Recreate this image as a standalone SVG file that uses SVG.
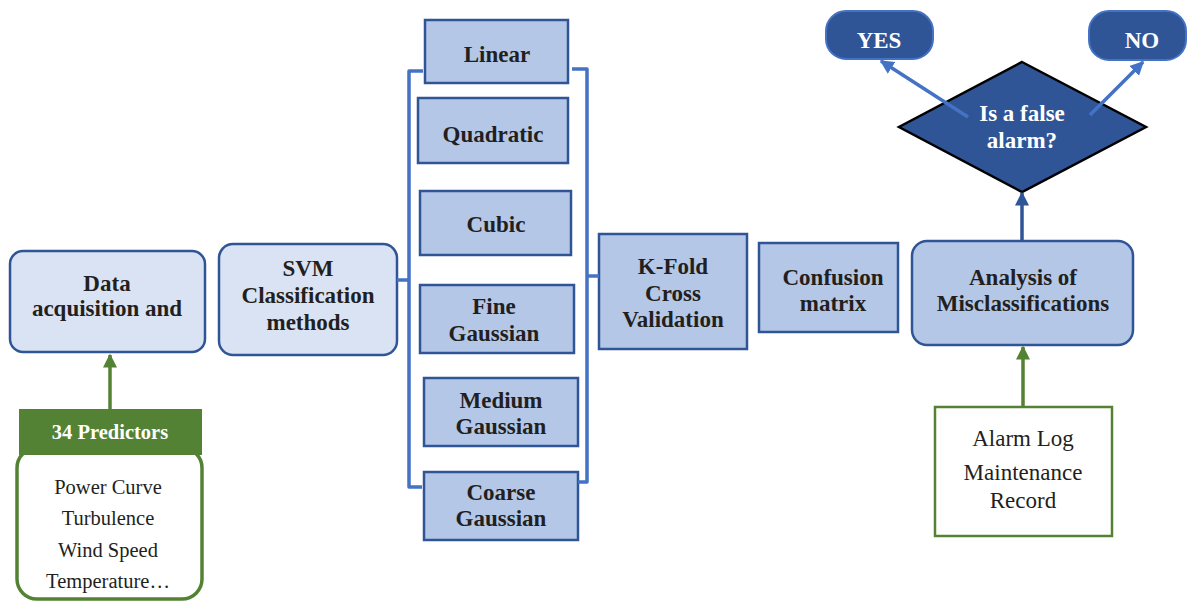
<svg xmlns="http://www.w3.org/2000/svg" width="1189" height="601" viewBox="0 0 1189 601">
<defs>
<style>
.t{font-family:"Liberation Serif","Times New Roman",serif;font-size:23px;font-weight:bold;fill:#231f20;text-anchor:middle}
.w{fill:#fff}
.r{font-family:"Liberation Serif","Times New Roman",serif;font-size:20.5px;fill:#231f20;text-anchor:middle}
.lb{fill:#dae3f3;stroke:#2f5597;stroke-width:2.5}
.mb{fill:#b4c7e7;stroke:#2f5597;stroke-width:2.5}
.br{fill:none;stroke:#4472c4;stroke-width:3.5;stroke-linejoin:round}
.ga{stroke:#548235;stroke-width:3.5;fill:none}
.ba{stroke:#4472c4;stroke-width:3.5;fill:none}
</style>
<marker id="mg" viewBox="0 0 10 10" refX="9" refY="5" markerWidth="4" markerHeight="4" orient="auto" markerUnits="strokeWidth"><path d="M0,0L10,5L0,10z" fill="#548235"/></marker>
<marker id="mb" viewBox="0 0 10 10" refX="9" refY="5" markerWidth="4" markerHeight="4" orient="auto" markerUnits="strokeWidth"><path d="M0,0L10,5L0,10z" fill="#4472c4"/></marker>
<marker id="md" viewBox="0 0 10 10" refX="9" refY="5" markerWidth="4" markerHeight="4" orient="auto" markerUnits="strokeWidth"><path d="M0,0L10,5L0,10z" fill="#2f5597"/></marker>
</defs>
<rect width="1189" height="601" fill="#fff"/>
<g id="data"><rect class="lb" x="10" y="251" width="195" height="101" rx="13"/><text class="t" x="107" y="291">Data</text><text class="t" x="107" y="316">acquisition and</text></g>
<g id="svm"><rect class="lb" x="219" y="244" width="178" height="111" rx="14"/><text class="t" x="308" y="276">SVM</text><text class="t" x="308" y="303">Classification</text><text class="t" x="308" y="330">methods</text></g>
<g id="linear"><rect class="mb" x="425" y="20" width="143" height="63"/><text class="t" x="497" y="62">Linear</text></g>
<g id="quadratic"><rect class="mb" x="418" y="98" width="150" height="65"/><text class="t" x="493" y="142">Quadratic</text></g>
<g id="cubic"><rect class="mb" x="420" y="191" width="151" height="64"/><text class="t" x="496" y="232">Cubic</text></g>
<g id="fine"><rect class="mb" x="420" y="285" width="154" height="68"/><text class="t" x="494" y="314">Fine</text><text class="t" x="494" y="341">Gaussian</text></g>
<g id="medium"><rect class="mb" x="424" y="378" width="154" height="68"/><text class="t" x="501" y="408">Medium</text><text class="t" x="501" y="434">Gaussian</text></g>
<g id="coarse"><rect class="mb" x="424" y="472" width="154" height="68"/><text class="t" x="501" y="500">Coarse</text><text class="t" x="501" y="526">Gaussian</text></g>
<g id="kfold"><rect class="mb" x="599" y="234" width="148" height="115"/><text class="t" x="673" y="274">K-Fold</text><text class="t" x="673" y="301">Cross</text><text class="t" x="673" y="327">Validation</text></g>
<g id="confusion"><rect class="mb" x="759" y="243" width="139" height="89"/><text class="t" x="833" y="285">Confusion</text><text class="t" x="833" y="311">matrix</text></g>
<g id="analysis"><rect class="mb" x="912" y="241" width="221" height="104" rx="15"/><text class="t" x="1023" y="285">Analysis of</text><text class="t" x="1023" y="311">Misclassifications</text></g>
<g id="decision"><polygon points="1022,62 1146,127 1022,192 899,127" fill="#2f5597" stroke="#000" stroke-width="2.5"/><text class="t w" x="1022" y="121">Is a false</text><text class="t w" x="1022" y="148">alarm?</text></g>
<g id="yes"><rect x="826" y="11" width="107" height="48" rx="20" fill="#2f5597" stroke="#4472c4" stroke-width="2"/><text class="t w" x="879" y="48">YES</text></g>
<g id="no"><rect x="1089" y="11" width="97" height="49" rx="20" fill="#2f5597" stroke="#4472c4" stroke-width="2"/><text class="t w" x="1142" y="48">NO</text></g>
<g id="predlist"><rect x="17" y="448" width="185" height="151" rx="20" fill="#fff" stroke="#548235" stroke-width="3.5"/><text class="r" x="108" y="494">Power Curve</text><text class="r" x="108" y="525">Turbulence</text><text class="r" x="108" y="557">Wind Speed</text><text class="r" x="108" y="588">Temperature…</text></g>
<g id="predictors"><rect x="19" y="409" width="183" height="46" fill="#548235"/><text class="t w" x="110" y="439" style="font-size:20.5px">34 Predictors</text></g>
<g id="alarm"><rect x="935" y="407" width="177" height="129" fill="#fff" stroke="#548235" stroke-width="2.5"/><text class="r" x="1023" y="446" style="font-size:23px">Alarm Log</text><text class="r" x="1023" y="480" style="font-size:23px">Maintenance</text><text class="r" x="1023" y="508" style="font-size:23px">Record</text></g>
<g id="connectors">
<path class="br" d="M423,71 H409 V487 H422"/>
<path class="br" d="M572,69 H587 V482 H578"/>
<path class="br" d="M397,280 H409"/>
<path class="br" d="M587,276 H599"/>
<line class="ga" x1="110" y1="409" x2="110" y2="355" marker-end="url(#mg)"/>
<line class="ga" x1="1023" y1="407" x2="1023" y2="347" marker-end="url(#mg)"/>
<line x1="1022" y1="241" x2="1022" y2="193" stroke="#2f5597" stroke-width="3.5" marker-end="url(#md)"/>
<line class="ba" x1="968" y1="117" x2="881" y2="61" marker-end="url(#mb)"/>
<line class="ba" x1="1090" y1="115" x2="1143" y2="62" marker-end="url(#mb)"/>
</g>
</svg>
